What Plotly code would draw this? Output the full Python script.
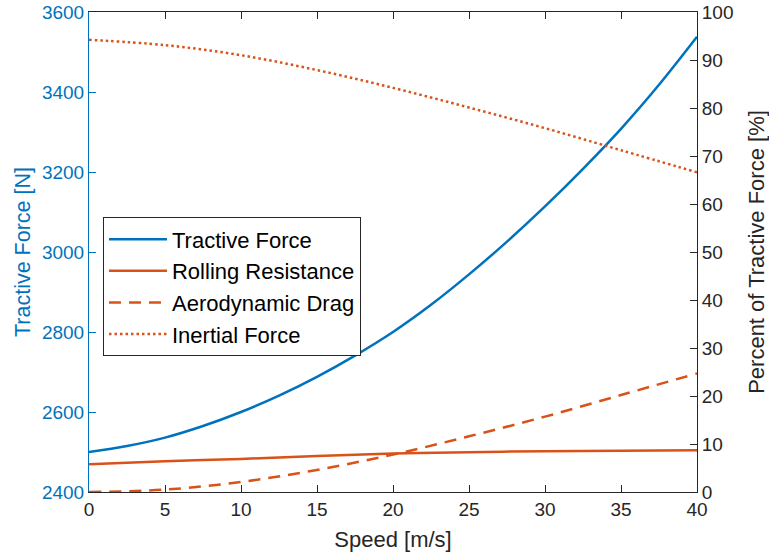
import plotly.graph_objects as go

# ---- data ----
speed_fine = [0, 2.5, 5, 7.5, 10, 12.5, 15, 17.5, 20, 22.5, 25, 27.5, 30, 32.5, 35, 37.5, 40]
tractive_force = [2500, 2515, 2536, 2565, 2600, 2641, 2688, 2741, 2800, 2868, 2944, 3026,
                  3114, 3208, 3308, 3418, 3538]

speed = [0, 5, 10, 15, 20, 25, 30, 35, 40]
rolling_pct = [5.8, 6.4, 6.9, 7.5, 8.0, 8.3, 8.5, 8.6, 8.7]
aero_pct = [0.0, 0.5, 2.1, 4.6, 7.8, 11.6, 15.7, 20.2, 24.7]
inertial_pct = [94.2, 93.1, 91.0, 87.9, 84.2, 80.1, 75.8, 71.2, 66.6]

x_ticks = [0, 5, 10, 15, 20, 25, 30, 35, 40]
y_left_ticks = [2400, 2600, 2800, 3000, 3200, 3400, 3600]
y_right_ticks = [0, 10, 20, 30, 40, 50, 60, 70, 80, 90, 100]

BLUE = "#0072BD"
ORANGE = "#D95319"
DARK = "#262626"
FONT = "Liberation Sans, Arial, sans-serif"

fig = go.Figure()
fig.add_trace(go.Scatter(x=speed_fine, y=tractive_force, name="Tractive Force",
                         mode="lines", line=dict(color=BLUE, width=2.5, shape="spline"),
                         yaxis="y"))
fig.add_trace(go.Scatter(x=speed, y=rolling_pct, name="Rolling Resistance",
                         mode="lines", line=dict(color=ORANGE, width=2.5, shape="spline"),
                         yaxis="y2"))
fig.add_trace(go.Scatter(x=speed, y=aero_pct, name="Aerodynamic Drag",
                         mode="lines", line=dict(color=ORANGE, width=2.5, shape="spline",
                                                 dash="12px,8px"),
                         yaxis="y2"))
fig.add_trace(go.Scatter(x=speed, y=inertial_pct, name="Inertial Force",
                         mode="lines", line=dict(color=ORANGE, width=2.5, shape="spline",
                                                 dash="2.5px,3px"),
                         yaxis="y2"))

fig.update_layout(
    width=769, height=554,
    margin=dict(l=89, r=72, t=12, b=62, autoexpand=False),
    paper_bgcolor="white", plot_bgcolor="white",
    font=dict(family=FONT, size=19, color=DARK),
    showlegend=True,
    legend=dict(x=0.023, y=0.572, xanchor="left", yanchor="top",
                bgcolor="white", bordercolor=DARK, borderwidth=1,
                itemwidth=58,
                font=dict(size=22, color="#000000"), tracegroupgap=0),
    xaxis=dict(range=[0, 40], tickvals=x_ticks, ticks="inside", ticklen=7,
               tickcolor=DARK, showline=True, linecolor=DARK, linewidth=1,
               mirror="ticks", showgrid=False, zeroline=False, automargin=False,
               tickfont=dict(size=19, color=DARK),
               title=dict(text="Speed [m/s]", font=dict(size=22, color=DARK), standoff=12)),
    yaxis=dict(range=[2400, 3600], tickvals=y_left_ticks, ticks="inside", ticklen=7,
               tickcolor=BLUE, showline=True, linecolor=BLUE, linewidth=1,
               showgrid=False, zeroline=False, automargin=False,
               tickfont=dict(size=19, color=BLUE),
               title=dict(text="Tractive Force [N]", font=dict(size=21.5, color=BLUE), standoff=5)),
    yaxis2=dict(range=[0, 100], tickvals=y_right_ticks, ticks="inside", ticklen=7,
                tickcolor=DARK, showline=True, linecolor=DARK, linewidth=1,
                overlaying="y", side="right", anchor="x",
                showgrid=False, zeroline=False, automargin=False,
                tickfont=dict(size=19, color=DARK),
                title=dict(text="Percent of Tractive Force [%]", font=dict(size=22, color=DARK),
                           standoff=16)),
)

fig.write_html("out.html")
